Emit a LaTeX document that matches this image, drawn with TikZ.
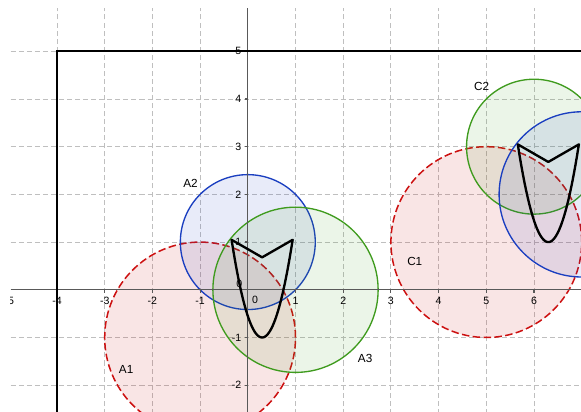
\documentclass[tikz,border=0pt]{standalone}
\usepackage{fontspec}
\setmainfont{Liberation Sans}
\definecolor{ggred}{HTML}{CC1111}
\definecolor{ggblue}{HTML}{1A3EC0}
\definecolor{gggreen}{HTML}{3F9B1E}
\tikzset{
  gridline/.style={black!25,line width=.5pt,dash pattern=on 3pt off 1.8pt},
  axisline/.style={black!65,line width=.7pt},
  redcirc/.style={ggred,line width=.9pt,dash pattern=on 4.5pt off 2pt,fill=ggred,fill opacity=.11},
  bluecirc/.style={ggblue,line width=.8pt,fill=ggblue,fill opacity=.1},
  greencirc/.style={gggreen,line width=.8pt,fill=gggreen,fill opacity=.1},
  cusp/.style={black,line width=1.4pt,line join=round},
  ticklabel/.style={font=\fontsize{6.3}{7}\selectfont,inner sep=0pt},
  circlabel/.style={font=\fontsize{7}{8}\selectfont,inner sep=0pt}
}
\begin{document}
\begin{tikzpicture}
      \useasboundingbox (-5.195,-2.562) rectangle (6.985,6.075);
      \clip (-4.97,-2.562) rectangle (6.985,5.9);

      % grid
      \foreach \x in {-4,...,6}
        \draw[gridline] (\x,-2.6) -- (\x,5.9);
      \foreach \y in {-2,...,5}
        \draw[gridline] (-4.97,\y) -- (7,\y);

      % circles
      \draw[redcirc] (-1,-1) circle[radius=2];
      \draw[bluecirc] (0,1) circle[radius=1.414];
      \draw[greencirc] (1,0) circle[radius=1.732];
      \draw[redcirc] (5,1) circle[radius=2];
      \draw[greencirc] (6,3) circle[radius=1.414];
      \draw[bluecirc] (7,2) circle[radius=1.732];

      % axes
      \draw[axisline] (-4.97,0) -- (7,0);
      \draw[axisline] (0,-2.6) -- (0,5.9);
      \foreach \x [count=\i] in {-5,-4,-3,-2,-1,1,2,3,4,5,6} {
        \draw[axisline] (\x,0) -- (\x,-.06);
        \node[ticklabel] (tx\i) at (\x,-.23) {\x};
      }
      \foreach \y [count=\i] in {-2,-1,1,2,3,4,5} {
        \draw[axisline] (0,\y) -- (-.06,\y);
        \node[ticklabel,anchor=east] (ty\i) at (-.13,\y) {\y};
      }
      \node[ticklabel] (ox) at (.15,-.21) {0};
      \node[ticklabel] (oy) at (-.18,.12) {0};

      % frame lines
      \draw[black,line width=1.4pt] (-4,-2.6) -- (-4,5) -- (7,5);

      % cusp figures
      \draw[cusp] (-.34,1.048) -- (.3,.68) -- (.94,1.048)
        -- plot[domain=.94:-.34,samples=60] (\x,{5*(\x-.3)^2-1}) -- cycle;
      \begin{scope}[shift={(6,2)}]
        \draw[cusp] (-.34,1.048) -- (.3,.68) -- (.94,1.048)
          -- plot[domain=.94:-.34,samples=60] (\x,{5*(\x-.3)^2-1}) -- cycle;
      \end{scope}

      % labels
      \node[circlabel] (labA1) at (-2.55,-1.67) {A1};
      \node[circlabel] (labA2) at (-1.2,2.23) {A2};
      \node[circlabel] (labA3) at (2.46,-1.44) {A3};
      \node[circlabel] (labC1) at (3.5,.59) {C1};
      \node[circlabel] (labC2) at (4.9,4.26) {C2};
\end{tikzpicture}
\end{document}
